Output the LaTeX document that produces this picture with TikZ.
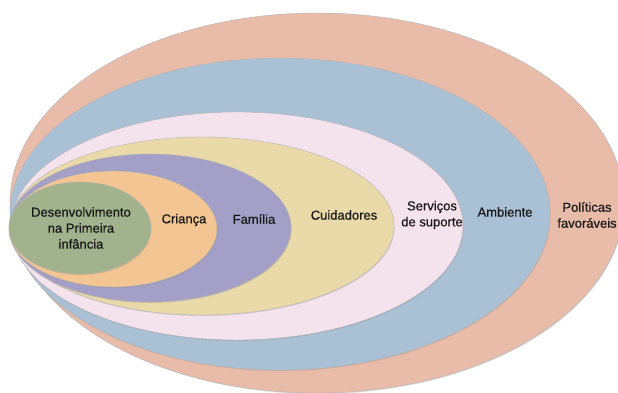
\documentclass[tikz,border=0pt]{standalone}
\usepackage{fontspec}
\setmainfont{Liberation Sans}
\newfontfamily\ringfont{Liberation Sans}[FakeBold=0.6]
\usetikzlibrary{shapes.geometric,shadows}

\definecolor{cpoliticas}{RGB}{233,188,170}
\definecolor{cambiente}{RGB}{170,193,213}
\definecolor{cservicos}{RGB}{244,227,237}
\definecolor{ccuidadores}{RGB}{234,218,170}
\definecolor{cfamilia}{RGB}{164,159,199}
\definecolor{ccrianca}{RGB}{243,197,146}
\definecolor{cdesenv}{RGB}{162,178,141}

\tikzset{x=1pt, y=-1pt,
  ring/.style={ellipse, draw=black!30, line width=0.4pt, inner sep=0pt,
    drop shadow={opacity=0.25, shadow xshift=0.6pt, shadow yshift=-1pt}},
  txt/.style={align=center, text=black!90, font=\ringfont\fontsize{13}{16}\selectfont}}

\begin{document}
\begin{tikzpicture}
  \useasboundingbox (0,0) rectangle (618,392);
  \clip (0,0) rectangle (618,392);
  % circles, from the outside in
  \node[ring, fill=cpoliticas,  minimum width=614pt, minimum height=380pt] (politicas)  at (317,203) {};
  \node[ring, fill=cambiente,   minimum width=540pt, minimum height=312pt] (ambiente)   at (280,214) {};
  \node[ring, fill=cservicos,   minimum width=452pt, minimum height=228pt] (servicos)   at (237,226) {};
  \node[ring, fill=ccuidadores, minimum width=384pt, minimum height=178pt] (cuidadores) at (202,226) {};
  \node[ring, fill=cfamilia,    minimum width=282pt, minimum height=148pt] (familia)    at (150,228) {};
  \node[ring, fill=ccrianca,    minimum width=208pt, minimum height=116pt] (crianca)    at (113,229) {};
  \node[ring, fill=cdesenv,     minimum width=142pt, minimum height=92pt]  (desenv)     at (80,228)  {};
  % labels
  \node[txt] (tpoliticas)  at (587,215) {Políticas\\favoráveis};
  \node[txt] (tambiente)   at (505,212) {Ambiente};
  \node[txt] (tservicos)   at (432,215) {Serviços\\de suporte};
  \node[txt] (tcuidadores) at (344,215) {Cuidadores};
  \node[txt] (tfamilia)    at (254,219) {Família};
  \node[txt] (tcrianca)    at (184,220) {Criança};
  \node[txt] (tdesenv)     at (81,228)  {Desenvolvimento\\na Primeira\\infância};
\end{tikzpicture}
\end{document}
